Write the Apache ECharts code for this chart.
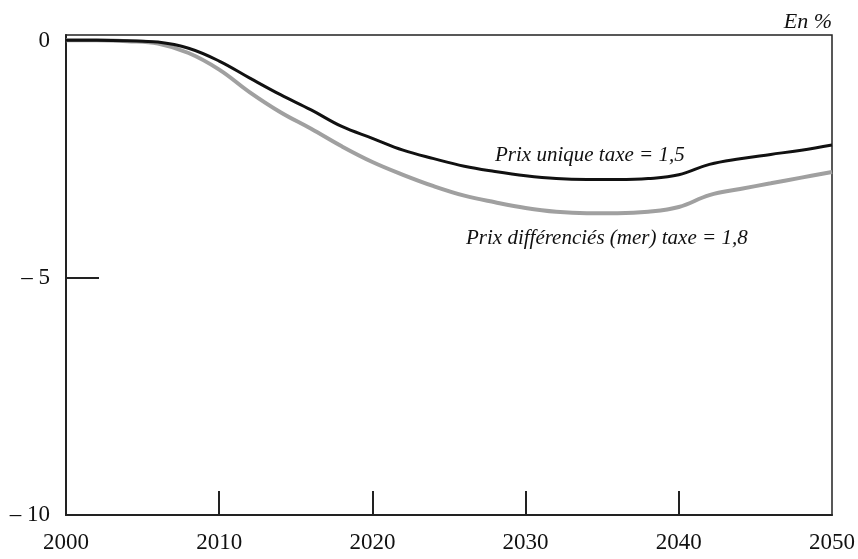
<!DOCTYPE html>
<html>
<head>
<meta charset="utf-8">
<script src="https://cdn.jsdelivr.net/npm/echarts@6/dist/echarts.min.js"></script>
<style>
html,body{margin:0;padding:0;background:#fff;}
#c{width:858px;height:559px;}
</style>
</head>
<body>
<div id="c"></div>
<script>
const years = [2000,2002,2004,2006,2008,2010,2012,2014,2016,2018,2020,2022,2024,2026,2028,2030,2032,2034,2036,2038,2040,2042,2044,2046,2048,2050];
const prixUnique = [0.02,0.02,0.01,-0.02,-0.15,-0.42,-0.78,-1.13,-1.45,-1.8,-2.05,-2.3,-2.48,-2.64,-2.75,-2.84,-2.9,-2.92,-2.92,-2.9,-2.82,-2.6,-2.48,-2.39,-2.3,-2.19];
const prixDiff = [0.02,0.02,0.0,-0.05,-0.25,-0.6,-1.08,-1.5,-1.85,-2.22,-2.55,-2.82,-3.06,-3.26,-3.4,-3.52,-3.6,-3.63,-3.63,-3.6,-3.5,-3.25,-3.12,-3.0,-2.88,-2.76];
const xTickLabels = [2000,2010,2020,2030,2040,2050];
const yTickLabels = [0,-5,-10];
const labelUnique = 'Prix unique taxe = 1,5';
const labelDiff = 'Prix différenciés (mer) taxe = 1,8';
const unitLabel = 'En %';

const font = 'Liberation Serif';
const chart = echarts.init(document.getElementById('c'));
chart.setOption({
  animation: false,
  backgroundColor: '#fff',
  title: {
    text: unitLabel, right: 21, top: 6,
    textStyle: {fontFamily: font, fontStyle: 'italic', fontWeight: 'normal', fontSize: 22, color: '#111'}
  },
  grid: {left: 66, right: 20, top: 35, bottom: 44, show: true, borderColor: '#222', borderWidth: 1.5, backgroundColor: 'transparent'},
  xAxis: {
    type: 'value', min: 2000, max: 2050, interval: 10,
    axisLine: {show: true, onZero: false, lineStyle: {color: '#222', width: 2}},
    axisTick: {show: true, inside: true, length: 24, lineStyle: {color: '#222', width: 2}, customValues: [2010,2020,2030,2040]},
    axisLabel: {fontFamily: font, fontSize: 23, color: '#111', margin: 16, customValues: xTickLabels, formatter: v => String(v)},
    splitLine: {show: false}
  },
  yAxis: {
    type: 'value', min: -10, max: 0.13, interval: 5,
    axisLine: {show: true, onZero: false, lineStyle: {color: '#222', width: 2}},
    axisTick: {show: true, inside: true, length: 33, lineStyle: {color: '#222', width: 2}, customValues: [-5]},
    axisLabel: {fontFamily: font, fontSize: 23, color: '#111', margin: 16, customValues: yTickLabels,
      formatter: v => v === 0 ? '0' : '\u2013 ' + Math.abs(v)},
    splitLine: {show: false}
  },
  series: [
    {
      type: 'line', name: labelDiff, data: years.map((y,i)=>[y, prixDiff[i]]),
      smooth: 0.4, showSymbol: false, lineStyle: {color: '#a0a0a0', width: 4}, z: 2
    },
    {
      type: 'line', name: labelUnique, data: years.map((y,i)=>[y, prixUnique[i]]),
      smooth: 0.4, showSymbol: false, lineStyle: {color: '#111', width: 3}, z: 3
    }
  ],
  graphic: [
    {type: 'text', left: 495, top: 145, style: {text: labelUnique, font: 'italic 21px "Liberation Serif"', fill: '#111'}},
    {type: 'text', left: 466, top: 228, style: {text: labelDiff, font: 'italic 21px "Liberation Serif"', fill: '#111'}}
  ]
});
</script>
</body>
</html>
